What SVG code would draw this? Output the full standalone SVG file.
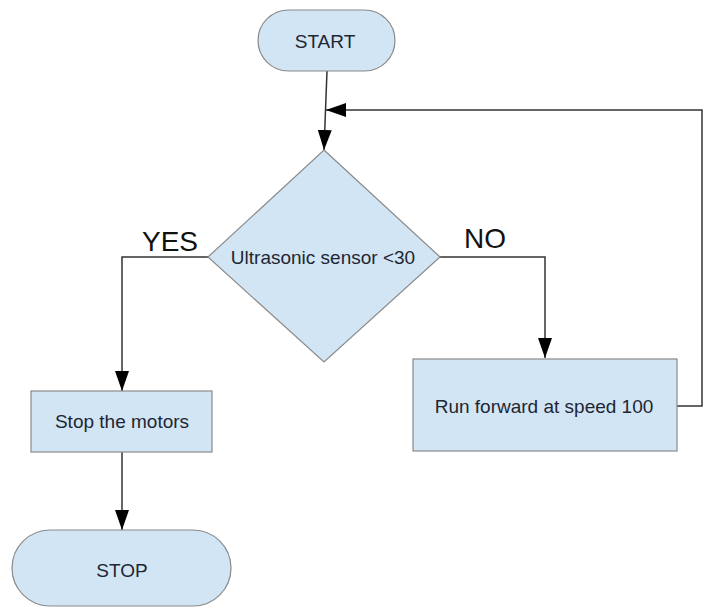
<svg xmlns="http://www.w3.org/2000/svg" width="707" height="608" viewBox="0 0 707 608">
  <style>
    .shape { fill: #d2e5f5; stroke: #8a8a8a; stroke-width: 1.2; }
    .lbl { font-family: "Liberation Sans", Arial, sans-serif; fill: #1e2633; text-anchor: middle; dominant-baseline: central; }
    .small { font-size: 19px; }
    .big { font-size: 28px; fill: #111; dominant-baseline: alphabetic; }
    .conn { fill: none; stroke: #333; stroke-width: 1.5; }
  </style>
  <defs>
    <marker id="arrow" viewBox="0 0 20 14" refX="20" refY="7" markerWidth="20" markerHeight="14" markerUnits="userSpaceOnUse" orient="auto">
      <path d="M0,0 L20,7 L0,14 Z" fill="#000"/>
    </marker>
  </defs>
  <rect width="707" height="608" fill="#fff"/>

  <g id="connectors">
    <path class="conn" d="M327,71 L324,150" marker-end="url(#arrow)"/>
    <path class="conn" d="M677,406 L702,406 L702,110 L326,110" marker-end="url(#arrow)"/>
    <path class="conn" d="M208,257 L122,257 L122,391" marker-end="url(#arrow)"/>
    <path class="conn" d="M440,257 L545,257 L545,358" marker-end="url(#arrow)"/>
    <path class="conn" d="M122,452 L122,530" marker-end="url(#arrow)"/>
  </g>

  <g id="start">
    <rect class="shape" x="258" y="10" width="137" height="61" rx="30.5"/>
    <text class="lbl small" x="325" y="41">START</text>
  </g>

  <g id="decision">
    <polygon class="shape" points="324,150 440,257 324,362 208,257"/>
    <text class="lbl small" x="323" y="257">Ultrasonic sensor &lt;30</text>
  </g>

  <g id="yes-label">
    <text class="lbl big" x="170" y="251">YES</text>
  </g>
  <g id="no-label">
    <text class="lbl big" x="485" y="248">NO</text>
  </g>

  <g id="run-forward">
    <rect class="shape" x="413" y="359" width="264" height="92"/>
    <text class="lbl small" x="544" y="406">Run forward at speed 100</text>
  </g>

  <g id="stop-motors">
    <rect class="shape" x="31" y="391" width="181" height="61"/>
    <text class="lbl small" x="122" y="421">Stop the motors</text>
  </g>

  <g id="stop">
    <rect class="shape" x="12" y="530" width="219" height="76" rx="38"/>
    <text class="lbl small" x="122" y="570">STOP</text>
  </g>
</svg>
